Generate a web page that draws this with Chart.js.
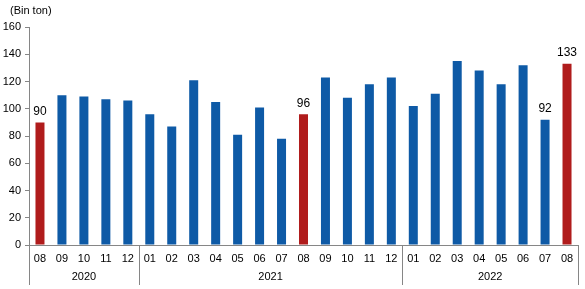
<!DOCTYPE html>
<html><head><meta charset="utf-8">
<script src="https://cdn.jsdelivr.net/npm/chart.js@4/dist/chart.umd.min.js"></script>
<style>html,body{margin:0;padding:0;background:#fff}#wrap{width:585px;height:289px;position:relative}</style>
</head><body><div id="wrap"><canvas id="c"></canvas></div>
<script>
const months = ['08','09','10','11','12','01','02','03','04','05','06','07','08','09','10','11','12','01','02','03','04','05','06','07','08'];
const values = [90,110,109,107,106,96,87,121,105,81,101,78,96,123,108,118,123,102,111,135,128,118,132,92,133];
const years = ['2020','2021','2022'];
const yearSpans = [5,12,8];
const labelled = [0,12,23,24];
const highlighted = [0,12,24];
const unitLabel = '(Bin ton)';

const BLUE = '#0E5AA6', RED = '#B01C1C', AXIS = '#868686';
const FONT = "'Liberation Sans', Arial, sans-serif";
const NARROW = "'Liberation Sans Narrow', 'Arial Narrow', 'Liberation Sans', Arial, sans-serif";

const groupPlugin = {
  id: 'groups',
  afterDraw(chart) {
    const ctx = chart.ctx, x = chart.scales.x, area = chart.chartArea;
    const step = (x.getPixelForValue(1) - x.getPixelForValue(0));
    ctx.save();
    ctx.strokeStyle = AXIS; ctx.lineWidth = 1;
    ctx.fillStyle = '#000'; ctx.font = '11px ' + NARROW;
    ctx.textAlign = 'center'; ctx.textBaseline = 'middle';
    let start = 0;
    const bounds = [];
    yearSpans.forEach((n, i) => {
      const left = x.getPixelForValue(start) - step / 2;
      const right = x.getPixelForValue(start + n - 1) + step / 2;
      bounds.push(left, right);
      ctx.fillText(years[i], (left + right) / 2, area.bottom + 32);
      start += n;
    });
    [...new Set(bounds.map(b => Math.round(b)))].forEach(b => {
      ctx.beginPath(); ctx.moveTo(b + 0.5, area.bottom); ctx.lineTo(b + 0.5, area.bottom + 40); ctx.stroke();
    });
    // data labels
    const meta = chart.getDatasetMeta(0);
    ctx.font = '12px ' + FONT; ctx.textBaseline = 'bottom';
    labelled.forEach(i => {
      const el = meta.data[i];
      ctx.fillText(String(values[i]), el.x, el.y - 5);
    });
    ctx.textAlign = 'left'; ctx.textBaseline = 'middle'; ctx.font = '11px ' + FONT;
    ctx.fillText(unitLabel, 10, 11);
    ctx.restore();
  }
};

new Chart(document.getElementById('c'), {
  type: 'bar',
  data: {
    labels: months,
    datasets: [{
      data: values,
      backgroundColor: values.map((v, i) => highlighted.includes(i) ? RED : BLUE),
      categoryPercentage: 1,
      barPercentage: 0.41,
      borderWidth: 0
    }]
  },
  options: {
    responsive: true, maintainAspectRatio: false, animation: false,
    layout: { padding: { top: 27, right: 7, left: 0, bottom: 0 } },
    plugins: { legend: { display: false }, tooltip: { enabled: false } },
    scales: {
      x: {
        grid: { display: false, drawTicks: false },
        border: { color: AXIS },
        ticks: { color: '#000', font: { family: NARROW, size: 11 }, padding: 7, maxRotation: 0, autoSkip: false },
        afterFit(s) { s.height = 44; }
      },
      y: {
        min: 0, max: 160,
        grid: { drawOnChartArea: false, tickLength: 4, color: AXIS },
        border: { color: AXIS },
        ticks: { stepSize: 20, color: '#000', font: { family: FONT, size: 11 }, padding: 4 },
        afterFit(s) { s.width = 29; }
      }
    }
  },
  plugins: [groupPlugin]
});
</script></body></html>
